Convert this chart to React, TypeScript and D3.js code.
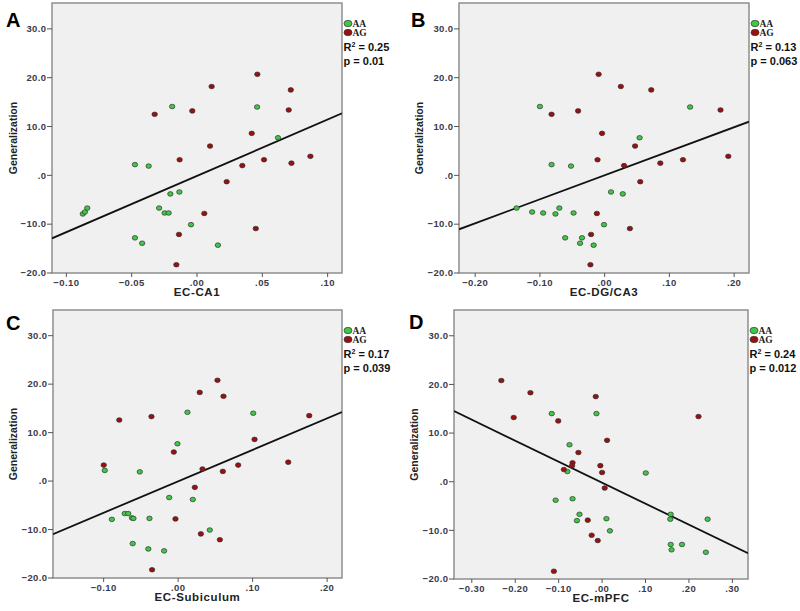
import React from "react";
import * as d3 from "d3";

// ---- Data ----
const panelLetters = ["A", "B", "C", "D"];
const xLabels = ["EC-CA1", "EC-DG/CA3", "EC-Subiculum", "EC-mPFC"];
const r2Values = ["0.25", "0.13", "0.17", "0.24"];
const pValues = ["0.01", "0.063", "0.039", "0.012"];
const xDomains: [number, number][] = [
  [-0.111, 0.111],
  [-0.225, 0.223],
  [-0.168, 0.22],
  [-0.341, 0.336],
];
const xTicks = [
  [-0.1, -0.05, 0, 0.05, 0.1],
  [-0.2, -0.1, 0, 0.1, 0.2],
  [-0.1, 0, 0.1, 0.2],
  [-0.3, -0.2, -0.1, 0, 0.1, 0.2, 0.3],
];
const yDomain: [number, number] = [-20, 35.3];
const yTicks = [-20, -10, 0, 10, 20, 30];
const fitSlopes = [115.3, 49.2, 64.9, -43.15];
const fitIntercepts = [-0.1, 0.02, -0.05, -0.2];

// Panel A: EC-CA1
const ca1AAx = [-0.0874, -0.0858, -0.084, -0.0475, -0.037, -0.019, -0.0475, -0.042, -0.029, -0.0248, -0.0217, -0.0204, -0.0135, -0.0046, 0.016, 0.046, 0.062];
const ca1AAy = [-7.9, -7.5, -6.7, 2.2, 1.9, 14.1, -12.8, -13.9, -6.7, -7.7, -7.7, -3.8, -3.4, -10.1, -14.3, 14.0, 7.7];
const ca1AGx = [-0.0324, -0.0036, 0.0112, 0.0462, 0.0718, 0.0702, 0.0419, 0.01, -0.0133, 0.0347, 0.0513, 0.0723, 0.0868, 0.0227, 0.0056, 0.045, -0.0138, -0.0158];
const ca1AGy = [12.5, 13.2, 18.2, 20.7, 17.5, 13.4, 8.6, 6.0, 3.2, 2.0, 3.2, 2.5, 3.9, -1.3, -7.8, -10.9, -12.1, -18.3];

// Panel B: EC-DG/CA3
const dgAAx = [-0.136, -0.112, -0.095, -0.076, -0.07, -0.048, -0.1, -0.082, -0.052, -0.061, -0.035, -0.038, -0.017, -0.001, 0.0098, 0.028, 0.054, 0.132];
const dgAAy = [-6.7, -7.5, -7.7, -7.9, -6.7, -7.7, 14.1, 2.2, 1.9, -12.8, -12.8, -13.9, -14.3, -10.1, -3.4, -3.8, 7.7, 14.0];
const dgAGx = [-0.082, -0.041, -0.0093, 0.025, 0.072, 0.179, -0.004, 0.047, -0.011, 0.03, 0.086, 0.121, 0.191, 0.055, -0.012, 0.039, -0.021, -0.022];
const dgAGy = [12.5, 13.2, 20.7, 18.2, 17.5, 13.4, 8.6, 6.0, 3.2, 2.0, 2.5, 3.2, 3.9, -1.3, -7.8, -10.9, -12.1, -18.3];

// Panel C: EC-Subiculum
const subAAx = [-0.0985, -0.089, -0.0717, -0.067, -0.062, -0.06, -0.061, -0.0515, -0.0385, -0.04, -0.0188, -0.012, -0.0009, 0.0125, 0.0197, 0.0425, 0.1008];
const subAAy = [2.2, -7.9, -6.7, -6.7, -7.6, -7.7, -12.9, 1.9, -7.7, -14.0, -14.4, -3.4, 7.7, 14.2, -3.8, -10.1, 14.0];
const subAGx = [-0.0999, -0.079, -0.0358, -0.0058, -0.0036, -0.035, 0.029, 0.0528, 0.0609, 0.0327, 0.0224, 0.06, 0.0806, 0.1026, 0.1478, 0.176, 0.0305, 0.056];
const subAGy = [3.3, 12.6, 13.3, 6.0, -7.8, -18.3, 18.3, 20.8, 17.5, 2.5, -1.3, 2.0, 3.3, 8.6, 3.9, 13.5, -10.9, -12.1];

// Panel D: EC-mPFC
const pfcAAx = [-0.116, -0.013, -0.075, -0.08, -0.107, -0.068, -0.052, -0.058, 0.01, 0.018, 0.1006, 0.158, 0.157, 0.158, 0.16, 0.184, 0.239, 0.243];
const pfcAAy = [14.0, 14.0, 7.6, 2.1, -3.8, -3.5, -6.7, -8.0, -7.6, -10.1, 1.8, -6.7, -7.7, -12.9, -14.0, -12.9, -14.5, -7.7];
const pfcAGx = [-0.232, -0.2035, -0.165, -0.101, -0.0146, 0.0115, -0.0545, -0.068, -0.069, -0.088, -0.004, 0.0, 0.006, -0.033, -0.024, -0.01, -0.111, 0.222];
const pfcAGy = [20.8, 13.2, 18.3, 12.5, 17.5, 8.5, 6.0, 3.9, 3.3, 2.5, 3.3, 1.9, -1.3, -7.9, -11.0, -12.1, -18.4, 13.4];

const aaX = [ca1AAx, dgAAx, subAAx, pfcAAx];
const aaY = [ca1AAy, dgAAy, subAAy, pfcAAy];
const agX = [ca1AGx, dgAGx, subAGx, pfcAGx];
const agY = [ca1AGy, dgAGy, subAGy, pfcAGy];

// ---- Layout (styles) ----
const W = 800;
const H = 611;
const rects = [
  { x: 52, y: 3, w: 290, h: 270, letterX: 6, letterY: 27, ylabX: 13 },
  { x: 459, y: 3, w: 290, h: 270, letterX: 411, letterY: 27, ylabX: 419 },
  { x: 53, y: 310, w: 289, h: 268, letterX: 6, letterY: 330, ylabX: 13 },
  { x: 454, y: 310, w: 294, h: 269, letterX: 409, letterY: 329, ylabX: 414 },
];
const GREEN = "#3ec846";
const RED = "#9c0f0f";
const fmtX = (v: number) => d3.format(".2f")(v).replace(/^(-?)0\./, "$1.");
const fmtY = (v: number) => d3.format(".1f")(v).replace(/^(-?)0\./, "$1.");

function Panel({ i }: { i: number }) {
  const r = rects[i];
  const x = d3.scaleLinear().domain(xDomains[i]).range([r.x, r.x + r.w]);
  const y = d3.scaleLinear().domain(yDomain).range([r.y + r.h, r.y]);
  const [x0, x1] = xDomains[i];
  const line = d3
    .line<number>()
    .x((d) => x(d))
    .y((d) => y(fitIntercepts[i] + fitSlopes[i] * d));
  const clipId = `clip${i}`;
  const tickFont = { fontFamily: "Liberation Sans, Arial, sans-serif", fontWeight: 700, fontSize: 9.5, fill: "#3a3a4a", letterSpacing: 0.4 };
  const legX = r.x + r.w + 6;
  return (
    <g>
      <defs>
        <clipPath id={clipId}>
          <rect x={r.x} y={r.y} width={r.w} height={r.h} />
        </clipPath>
      </defs>
      <rect x={r.x} y={r.y} width={r.w} height={r.h} fill="#f0f0f0" stroke="#8e8e8e" strokeWidth={1.5} />
      {/* y ticks */}
      {yTicks.map((t) => (
        <g key={`y${t}`}>
          <line x1={r.x - 5} x2={r.x} y1={y(t)} y2={y(t)} stroke="#555" strokeWidth={1} />
          <text x={r.x - 5.5} y={y(t) + 3.3} textAnchor="end" {...tickFont}>
            {fmtY(t)}
          </text>
        </g>
      ))}
      {/* x ticks */}
      {xTicks[i].map((t) => (
        <g key={`x${t}`}>
          <line x1={x(t)} x2={x(t)} y1={r.y + r.h} y2={r.y + r.h + 4} stroke="#555" strokeWidth={1} />
          <text x={x(t)} y={r.y + r.h + 12.5} textAnchor="middle" {...tickFont}>
            {fmtX(t)}
          </text>
        </g>
      ))}
      <g clipPath={`url(#${clipId})`}>
        <path d={line([x0, x1]) || ""} stroke="#111" strokeWidth={1.8} fill="none" />
      </g>
      {aaX[i].map((v, k) => (
        <ellipse key={`a${k}`} cx={x(v)} cy={y(aaY[i][k])} rx={2.7} ry={2.3} fill={GREEN} stroke="#333" strokeWidth={0.7} />
      ))}
      {agX[i].map((v, k) => (
        <ellipse key={`g${k}`} cx={x(v)} cy={y(agY[i][k])} rx={2.7} ry={2.3} fill={RED} stroke="#333" strokeWidth={0.7} />
      ))}
      {/* panel letter */}
      <text x={r.letterX} y={r.letterY} fontFamily="Liberation Sans, Arial, sans-serif" fontWeight={700} fontSize={20} fill="#000">
        {panelLetters[i]}
      </text>
      {/* axis labels */}
      <text
        transform={`translate(${r.ylabX + 4},${r.y + r.h / 2}) rotate(-90)`}
        textAnchor="middle"
        fontFamily="Liberation Sans, Arial, sans-serif"
        fontWeight={700}
        fontSize={10.5}
        fill="#222"
      >
        Generalization
      </text>
      <text
        x={r.x + r.w / 2}
        y={r.y + r.h + 23}
        textAnchor="middle"
        fontFamily="Liberation Sans, Arial, sans-serif"
        fontWeight={700}
        fontSize={11.5}
        letterSpacing={0.6}
        fill="#222"
      >
        {xLabels[i]}
      </text>
      {/* legend */}
      <ellipse cx={legX} cy={r.y + 20.5} rx={4} ry={3.2} fill={GREEN} stroke="#333" strokeWidth={0.7} />
      <text x={legX + 4.5} y={r.y + 23.8} fontFamily="Liberation Serif, Times New Roman, serif" fontWeight={700} fontSize={9.5} fill="#222">
        AA
      </text>
      <ellipse cx={legX} cy={r.y + 29.5} rx={4} ry={3.2} fill={RED} stroke="#333" strokeWidth={0.7} />
      <text x={legX + 4.5} y={r.y + 32.8} fontFamily="Liberation Serif, Times New Roman, serif" fontWeight={700} fontSize={9.5} fill="#222">
        AG
      </text>
      <text x={r.x + r.w + 1.5} y={r.y + 48} fontFamily="Liberation Sans, Arial, sans-serif" fontWeight={700} fontSize={11} fill="#111">
        R<tspan fontSize={7} dy={-4}>2</tspan>
        <tspan dy={4}> = {r2Values[i]}</tspan>
      </text>
      <text x={r.x + r.w + 1.5} y={r.y + 62} fontFamily="Liberation Sans, Arial, sans-serif" fontWeight={700} fontSize={11} fill="#111">
        p = {pValues[i]}
      </text>
    </g>
  );
}

export default function App() {
  return (
    <svg
      width={W}
      height={H}
      viewBox={`0 0 ${W} ${H}`}
      style={{ position: "absolute", left: 0, top: 0, background: "#fff" }}
    >
      <rect x={0} y={0} width={W} height={H} fill="#fff" />
      {[0, 1, 2, 3].map((i) => (
        <Panel key={i} i={i} />
      ))}
    </svg>
  );
}
